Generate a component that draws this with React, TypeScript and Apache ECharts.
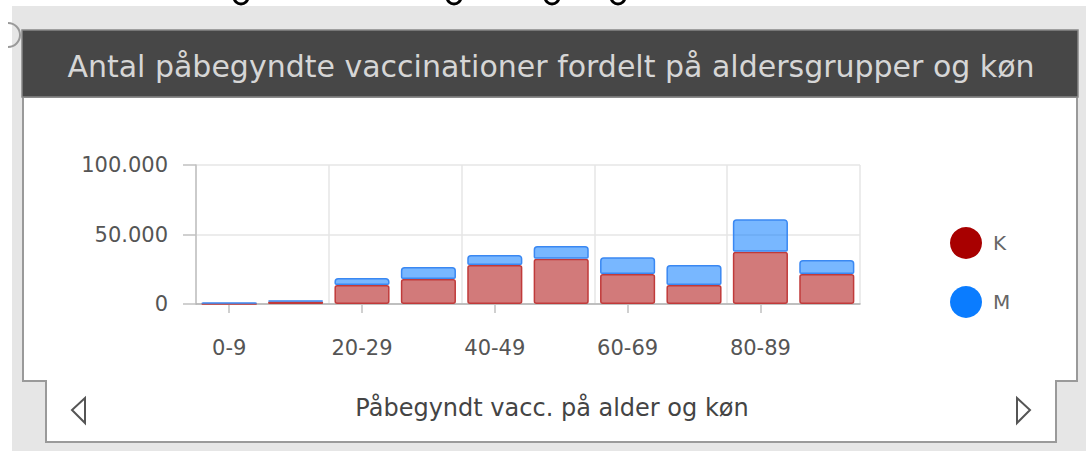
import React, { useEffect, useRef } from "react";
import * as echarts from "echarts";

const categories = ["0-9", "10-19", "20-29", "30-39", "40-49", "50-59", "60-69", "70-79", "80-89", "90+"];
const kValues = [100, 1800, 13700, 18000, 28000, 32600, 21600, 13700, 37600, 21600];
const mValues = [1200, 600, 5000, 8600, 7300, 9100, 12000, 14300, 23400, 10100];
const yTicks = { min: 0, max: 100000, interval: 50000 };
const title = "Antal påbegyndte vaccinationer fordelt på aldersgrupper og køn";
const footer = "Påbegyndt vacc. på alder og køn";

const FONT = "DejaVu Sans";

function fmt(v: number): string {
  return String(v).replace(/\B(?=(\d{3})+(?!\d))/g, ".");
}

export default function App() {
  const ref = useRef<HTMLDivElement>(null);
  useEffect(() => {
    if (!ref.current) return;
    const chart = echarts.init(ref.current, undefined, { renderer: "svg" });
    const border = "#9a9a9a";
    const option: any = {
      animation: false,
      backgroundColor: "#ffffff",
      textStyle: { fontFamily: FONT },
      graphic: [
        { type: "rect", z: -10, shape: { x: 12, y: 6, width: 1074, height: 445 }, style: { fill: "#e6e6e6" } },
        { type: "arc", z: -9, shape: { cx: 8, cy: 35, r: 12, startAngle: -Math.PI / 2, endAngle: Math.PI / 2 }, style: { stroke: "#9a9a9a", lineWidth: 2, fill: "none" } },
        ...[241, 454, 552, 618].map((x) => ({
          type: "arc",
          z: -9,
          shape: { cx: x, cy: -3, r: 7, startAngle: 0, endAngle: Math.PI },
          style: { stroke: "#000", lineWidth: 3, fill: "none" },
        })),
        {
          type: "polygon",
          z: -8,
          shape: {
            points: [
              [23, 97], [23, 381], [46, 381], [46, 442], [1056, 442], [1056, 381], [1077, 381], [1077, 97],
            ],
          },
          style: { fill: "#ffffff", stroke: border, lineWidth: 2 },
        },
        { type: "rect", z: -7, shape: { x: 22, y: 30, width: 1056, height: 67 }, style: { fill: "#474747", stroke: "#888888", lineWidth: 1.5 } },
        {
          type: "text",
          z: -6,
          x: 551,
          y: 66,
          style: { text: title, fill: "#d6d6d6", font: `30px "${FONT}"`, align: "center", verticalAlign: "middle" },
        },
        {
          type: "text",
          z: -6,
          x: 552,
          y: 408,
          style: { text: footer, fill: "#444444", font: `24px "${FONT}"`, align: "center", verticalAlign: "middle" },
        },
        { type: "polygon", z: -6, shape: { points: [[85, 398], [72, 410], [85, 423]] }, style: { fill: "none", stroke: "#555", lineWidth: 2 } },
        { type: "polygon", z: -6, shape: { points: [[1017, 398], [1030, 410], [1017, 423]] }, style: { fill: "none", stroke: "#555", lineWidth: 2 } },
      ],
      legend: {
        orient: "vertical",
        left: 950,
        top: 227,
        padding: 0,
        itemWidth: 32,
        itemHeight: 32,
        itemGap: 27,
        icon: "circle",
        textStyle: { color: "#666", fontSize: 20, fontFamily: FONT, padding: [0, 0, 0, 6] },
        data: [
          { name: "K", itemStyle: { color: "#a80000", borderWidth: 0 } },
          { name: "M", itemStyle: { color: "#0a7cff", borderWidth: 0 } },
        ],
      },
      grid: { left: 196, top: 165, width: 664, height: 139, containLabel: false },
      xAxis: {
        type: "category",
        data: categories,
        axisLine: { show: true, lineStyle: { color: "#b0b0b0", width: 1.5 } },
        axisTick: { show: true, alignWithLabel: true, interval: 1, length: 9, lineStyle: { color: "#c0c0c0", width: 1.5 } },
        axisLabel: { interval: 1, color: "#555", fontSize: 21, fontFamily: FONT, margin: 33 },
        splitLine: { show: true, interval: 1, lineStyle: { color: "#e6e6e6", width: 1.5 } },
      },
      yAxis: {
        type: "value",
        min: yTicks.min,
        max: yTicks.max,
        interval: yTicks.interval,
        axisLine: { show: true, lineStyle: { color: "#c0c0c0", width: 1.5 } },
        axisTick: { show: true, length: 13, lineStyle: { color: "#c0c0c0", width: 1.5 } },
        axisLabel: { color: "#555", fontSize: 21, fontFamily: FONT, margin: 28, formatter: (v: number) => fmt(v) },
        splitLine: { show: true, lineStyle: { color: "#e6e6e6", width: 1.5 } },
      },
      series: [
        {
          name: "K",
          type: "bar",
          stack: "total",
          data: kValues,
          barWidth: "83%",
          itemStyle: { color: "rgba(168,0,0,0.52)", borderColor: "#c03a3a", borderWidth: 1.5, borderRadius: 2 },
        },
        {
          name: "M",
          type: "bar",
          stack: "total",
          data: mValues,
          barWidth: "83%",
          itemStyle: { color: "rgba(10,124,255,0.55)", borderColor: "#3a88f2", borderWidth: 1.5, borderRadius: [3, 3, 1, 1] },
        },
      ],
    };
    chart.setOption(option);
    return () => chart.dispose();
  }, []);
  return <div ref={ref} style={{ position: "fixed", left: 0, top: 0, width: 1088, height: 451 }} />;
}
